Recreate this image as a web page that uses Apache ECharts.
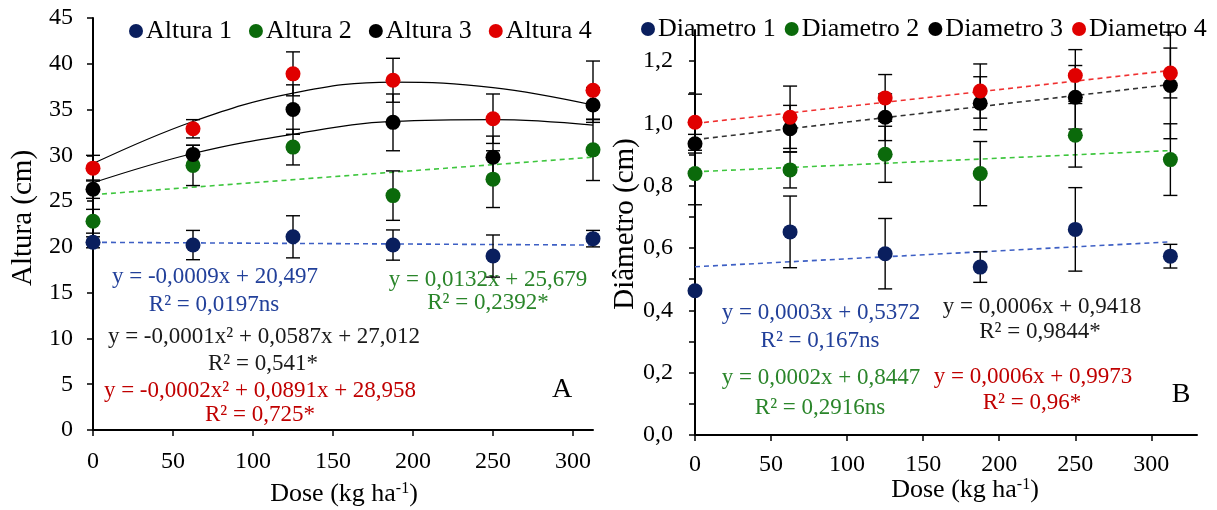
<!DOCTYPE html>
<html><head><meta charset="utf-8">
<script src="https://cdn.jsdelivr.net/npm/echarts@6/dist/echarts.min.js"></script>
<style>html,body{margin:0;padding:0;background:#fff}#c{width:1217px;height:510px}</style>
</head><body><div id="c"></div>
<script>
// ---------- data ----------
const doses = [0, 62.5, 125, 187.5, 250, 312.5];
const xTicks = [0, 50, 100, 150, 200, 250, 300];
const alturaTicksMax = 45;
const altura1 = [20.5, 20.2, 21.1, 20.2, 19.0, 20.9];
const altura1Err = [0.6, 1.6, 2.3, 1.65, 2.3, 0.9];
const altura2 = [22.8, 28.9, 30.9, 25.6, 27.4, 30.6];
const altura2Err = [1.3, 2.2, 1.95, 2.7, 3.1, 3.35];
const altura3 = [26.3, 30.1, 35.0, 33.6, 29.8, 35.5];
const altura3Err = [1.0, 1.0, 2.7, 3.1, 2.3, 1.9];
const altura4 = [28.6, 32.9, 38.9, 38.2, 34.0, 37.1];
const altura4Err = [1.4, 1.0, 2.4, 2.4, 2.7, 3.2];

const diam1 = [0.463, 0.652, 0.582, 0.539, 0.660, 0.574];
const diam1Err = [0, 0.115, 0.113, 0.049, 0.134, 0.038];
const diam2 = [0.839, 0.851, 0.901, 0.839, 0.962, 0.884];
const diam2Err = [0.1, 0.058, 0.09, 0.103, 0.102, 0.115];
const diam3 = [0.935, 0.983, 1.020, 1.065, 1.084, 1.122];
const diam3Err = [0.03, 0.075, 0.075, 0.085, 0.102, 0.171];
const diam4 = [1.004, 1.020, 1.082, 1.104, 1.154, 1.162];
const diam4Err = [0.09, 0.1, 0.075, 0.087, 0.083, 0.08];

// trend lines
const trendX = [0, 312.5];
const altura1Trend = [20.5, 20.2];
const altura2Trend = [25.7, 29.8];
const altura3Curve = [27.0, 30.2, 32.3, 33.7, 33.9, 33.3];
const altura4Curve = [29.1, 33.7, 36.8, 38.0, 37.4, 35.5];
const diam1Trend = [0.54, 0.62];
const diam2Trend = [0.845, 0.913];
const diam3Trend = [0.948, 1.125];
const diam4Trend = [1.0, 1.17];

const alturaNames = ['Altura 1', 'Altura 2', 'Altura 3', 'Altura 4'];
const diamNames = ['Diametro 1', 'Diametro 2', 'Diametro 3', 'Diametro 4'];

// ---------- styling ----------
const FONT = "'Liberation Serif', 'Times New Roman', serif";
const dotColors = ['#0a1f5e', '#0b6a0b', '#000000', '#e00000'];
const dashColors = ['#3d5fc4', '#3ec63e', '#333333', '#f03030'];
const eqColors = ['#22409a', '#2a852a', '#1a1a1a', '#c00000'];

const chart = echarts.init(document.getElementById('c'), null, {renderer: 'canvas'});

function pairs(xs, ys) { return xs.map((x, i) => [x, ys[i]]); }

function errSeries(vals, errs, ai) {
  return {
    type: 'custom', xAxisIndex: ai, yAxisIndex: ai, z: 3, silent: true,
    encode: {x: 0, y: [1, 2]},
    data: doses.map((d, i) => [d, vals[i] - errs[i], vals[i] + errs[i]]).filter((r, i) => errs[i] > 0),
    renderItem: (params, api) => {
      const lo = api.coord([api.value(0), api.value(1)]);
      const hi = api.coord([api.value(0), api.value(2)]);
      const w = 7;
      const st = {stroke: '#000', lineWidth: 1.4};
      return {type: 'group', children: [
        {type: 'line', shape: {x1: lo[0], y1: lo[1], x2: hi[0], y2: hi[1]}, style: st},
        {type: 'line', shape: {x1: lo[0] - w, y1: lo[1], x2: lo[0] + w, y2: lo[1]}, style: st},
        {type: 'line', shape: {x1: hi[0] - w, y1: hi[1], x2: hi[0] + w, y2: hi[1]}, style: st}
      ]};
    }
  };
}
function dotSeries(name, vals, color, ai) {
  return {type: 'scatter', name, xAxisIndex: ai, yAxisIndex: ai, z: 5,
    symbol: 'circle', symbolSize: 15, itemStyle: {color, opacity: 1},
    data: pairs(doses, vals)};
}
function dashSeries(vals, color, ai) {
  return {type: 'line', xAxisIndex: ai, yAxisIndex: ai, z: 2, silent: true, showSymbol: false,
    lineStyle: {color, width: 1.6, type: [5, 4]}, data: pairs(trendX, vals)};
}
function curveSeries(vals, ai) {
  return {type: 'line', xAxisIndex: ai, yAxisIndex: ai, z: 2, silent: true, showSymbol: false,
    smooth: 0.4, lineStyle: {color: '#000', width: 1.2}, data: pairs(doses, vals)};
}

const axisLine = {show: true, lineStyle: {color: '#000', width: 2}};
const axisTick = {show: true, length: 6, lineStyle: {color: '#000', width: 1.5}};
const labelStyle = {color: '#000', fontFamily: FONT, fontSize: 24};

function txt(text, x, y, color, size, extra) {
  return Object.assign({type: 'text', x, y, silent: true,
    style: {text, fill: color, font: size + 'px ' + FONT, textAlign: 'center', textVerticalAlign: 'middle'}}, extra || {});
}
function doseTitle(x, y) {
  return {type: 'text', x, y, silent: true, style: {
    text: '{a|Dose (kg ha}{s|-1}{a|)}', textAlign: 'center', textVerticalAlign: 'middle',
    rich: {a: {fontFamily: FONT, fontSize: 26, fill: '#000'}, s: {fontFamily: FONT, fontSize: 16, fill: '#000', verticalAlign: 'top', padding: [0, 0, 10, 0]}}
  }};
}

const option = {
  animation: false,
  backgroundColor: '#fff',
  grid: [
    {left: 93, top: 18, width: 500, height: 412},
    {left: 695, top: 30, width: 502, height: 405}
  ],
  xAxis: [
    {type: 'value', gridIndex: 0, min: 0, max: 312.5, splitLine: {show: false}, axisLine,
     axisTick: Object.assign({customValues: xTicks}, axisTick),
     axisLabel: Object.assign({customValues: xTicks, margin: 20}, labelStyle)},
    {type: 'value', gridIndex: 1, min: 0, max: 330, splitLine: {show: false}, axisLine,
     axisTick: Object.assign({customValues: xTicks}, axisTick),
     axisLabel: Object.assign({customValues: xTicks, margin: 18}, labelStyle)}
  ],
  yAxis: [
    {type: 'value', gridIndex: 0, min: 0, max: alturaTicksMax, interval: 5, splitLine: {show: false}, axisLine, axisTick,
     axisLabel: Object.assign({margin: 20}, labelStyle)},
    {type: 'value', gridIndex: 1, min: 0, max: 1.3, interval: 0.1, splitLine: {show: false}, axisLine, axisTick,
     axisLabel: Object.assign({margin: 22, showMaxLabel: false,
       formatter: v => (Math.round(v * 10) % 2 === 0 ? v.toFixed(1).replace('.', ',') : '')}, labelStyle)}
  ],
  legend: [
    {data: alturaNames, left: 124, top: 13, icon: 'circle', itemWidth: 14, itemHeight: 14, itemGap: 17,
     textStyle: {fontFamily: FONT, fontSize: 26, color: '#000', padding: [0, 0, 0, -2]}},
    {data: diamNames, left: 636, top: 11, icon: 'circle', itemWidth: 14, itemHeight: 14, itemGap: 9,
     textStyle: {fontFamily: FONT, fontSize: 26, color: '#000', padding: [0, 0, 0, -2]}}
  ],
  series: [
    dashSeries(altura1Trend, dashColors[0], 0),
    dashSeries(altura2Trend, dashColors[1], 0),
    curveSeries(altura3Curve, 0),
    curveSeries(altura4Curve, 0),
    errSeries(altura1, altura1Err, 0),
    errSeries(altura2, altura2Err, 0),
    errSeries(altura3, altura3Err, 0),
    errSeries(altura4, altura4Err, 0),
    dotSeries(alturaNames[0], altura1, dotColors[0], 0),
    dotSeries(alturaNames[1], altura2, dotColors[1], 0),
    dotSeries(alturaNames[2], altura3, dotColors[2], 0),
    dotSeries(alturaNames[3], altura4, dotColors[3], 0),

    dashSeries(diam1Trend, dashColors[0], 1),
    dashSeries(diam2Trend, dashColors[1], 1),
    dashSeries(diam3Trend, dashColors[2], 1),
    dashSeries(diam4Trend, dashColors[3], 1),
    errSeries(diam1, diam1Err, 1),
    errSeries(diam2, diam2Err, 1),
    errSeries(diam3, diam3Err, 1),
    errSeries(diam4, diam4Err, 1),
    dotSeries(diamNames[0], diam1, dotColors[0], 1),
    dotSeries(diamNames[1], diam2, dotColors[1], 1),
    dotSeries(diamNames[2], diam3, dotColors[2], 1),
    dotSeries(diamNames[3], diam4, dotColors[3], 1)
  ],
  graphic: [
    txt('Altura (cm)', 23, 218, '#000', 29, {rotation: Math.PI / 2}),
    txt('Diâmetro (cm)', 625, 224, '#000', 29, {rotation: Math.PI / 2}),
    doseTitle(344, 494),
    doseTitle(965, 490),
    // left equations
    txt('y = -0,0009x + 20,497', 215, 277, eqColors[0], 23),
    txt('R² = 0,0197ns', 214, 305, eqColors[0], 23),
    txt('y = -0,0001x² + 0,0587x + 27,012', 264, 337, eqColors[2], 23),
    txt('R² = 0,541*', 263, 364, eqColors[2], 23),
    txt('y = -0,0002x² + 0,0891x + 28,958', 260, 391, eqColors[3], 23),
    txt('R² = 0,725*', 260, 415, eqColors[3], 23),
    txt('y = 0,0132x + 25,679', 488, 280, eqColors[1], 23),
    txt('R² = 0,2392*', 488, 303, eqColors[1], 23),
    txt('A', 562, 390, '#000', 28),
    // right equations
    txt('y = 0,0003x + 0,5372', 821, 313, eqColors[0], 23),
    txt('R² = 0,167ns', 820, 341, eqColors[0], 23),
    txt('y = 0,0002x + 0,8447', 821, 378, eqColors[1], 23),
    txt('R² = 0,2916ns', 820, 408, eqColors[1], 23),
    txt('y = 0,0006x + 0,9418', 1042, 307, eqColors[2], 23),
    txt('R² = 0,9844*', 1040, 332, eqColors[2], 23),
    txt('y = 0,0006x + 0,9973', 1033, 377, eqColors[3], 23),
    txt('R² = 0,96*', 1032, 403, eqColors[3], 23),
    txt('B', 1181, 395, '#000', 28)
  ]
};
chart.setOption(option);
</script></body></html>
